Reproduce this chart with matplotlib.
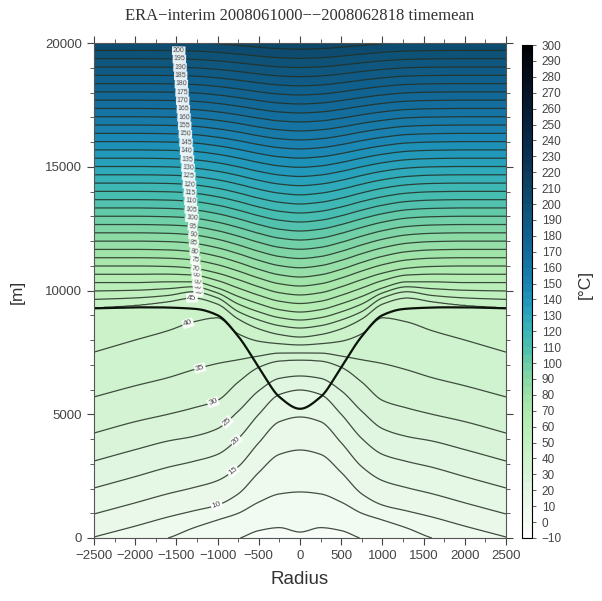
import numpy as np
import matplotlib
matplotlib.use("Agg")
import matplotlib.pyplot as plt
from matplotlib.colors import LinearSegmentedColormap
from matplotlib.ticker import MultipleLocator

# ---------------- data ----------------
title = "ERA\u2212interim 2008061000\u2212\u22122008062818 timemean"

# radial columns (symmetric about r = 0)
radii = [0, 250, 500, 750, 1000, 1300, 1600, 2000, 2500]

# potential-temperature levels [degC] and their heights [m] at each radius
theta_levels = [-5, 0, 5, 10, 15, 20, 25, 30, 35, 40, 45, 50, 60, 70, 80, 100, 120, 150, 180, 210]
z_m005 = [-1300, -1300, -1300, -1500, -1700, -1900, -2100, -2300, -2500]
z_000 = [240, 420, 300, -30, -250, -500, -800, -1100, -1500]
z_005 = [1860, 1780, 1450, 1000, 730, 400, 0, -350, -700]
z_010 = [3555, 3380, 2650, 1780, 1330, 1090, 850, 480, 40]
z_015 = [4890, 4700, 3850, 2880, 2320, 2030, 1790, 1420, 970]
z_020 = [5980, 5800, 5000, 4020, 3380, 3090, 2860, 2480, 2020]
z_025 = [6545, 6450, 5950, 5120, 4420, 4100, 3920, 3570, 3110]
z_030 = [7190, 7150, 6900, 6300, 5560, 5250, 5000, 4700, 4240]
z_035 = [7475, 7470, 7350, 7200, 7050, 6790, 6480, 6150, 5700]
z_040 = [7800, 7850, 7950, 8250, 8900, 8730, 8380, 8000, 7510]
z_045 = [8120, 8220, 8450, 8850, 9450, 9700, 9550, 9400, 9300]
z_050 = [8485, 8580, 8810, 9150, 9700, 9950, 9800, 9700, 9640]
z_060 = [9130, 9225, 9465, 9760, 10100, 10350, 10350, 10320, 10320]
z_070 = [9820, 9910, 10150, 10440, 10700, 10900, 10970, 10990, 10990]
z_080 = [10545, 10635, 10855, 11135, 11380, 11570, 11640, 11660, 11660]
z_100 = [12040, 12115, 12310, 12550, 12760, 12925, 12980, 13000, 13000]
z_120 = [13495, 13565, 13730, 13945, 14130, 14270, 14325, 14340, 14340]
z_150 = [15720, 15770, 15895, 16055, 16190, 16300, 16335, 16350, 16350]
z_180 = [17900, 17935, 18030, 18145, 18245, 18325, 18350, 18360, 18360]
z_210 = [20120, 20140, 20190, 20255, 20310, 20350, 20365, 20370, 20370]

# tropopause (thick line), symmetric about r = 0
trop_r = [0, 250, 500, 750, 1000, 1250, 1500, 1750, 2000, 2250, 2500]
trop_z = [5220, 5700, 6900, 8150, 9000, 9250, 9300, 9320, 9320, 9300, 9280]

# contour-label levels and where (radius) they sit on the left side
low_label_levels = [10, 15, 20, 25, 30, 35, 40, 45]
low_label_radii = [-1010, -815, -777, -888, -1056, -1214, -1360, -1311]
up_label_levels = list(range(50, 201, 5))

xticks = [-2500, -2000, -1500, -1000, -500, 0, 500, 1000, 1500, 2000, 2500]
yticks = [0, 5000, 10000, 15000, 20000]
cbar_ticks = list(range(-10, 301, 10))

# ---------------- helpers ----------------
def pchip(x, y, xn):
    x = np.asarray(x, float); y = np.asarray(y, float); xn = np.asarray(xn, float)
    h = np.diff(x); d = np.diff(y) / h
    n = len(x)
    m = np.zeros(n)
    for k in range(1, n - 1):
        if d[k - 1] * d[k] > 0:
            w1 = 2 * h[k] + h[k - 1]; w2 = h[k] + 2 * h[k - 1]
            m[k] = (w1 + w2) / (w1 / d[k - 1] + w2 / d[k])
    m[0] = d[0]; m[-1] = d[-1]
    idx = np.clip(np.searchsorted(x, xn) - 1, 0, n - 2)
    t = (xn - x[idx]) / h[idx]
    h00 = 2 * t**3 - 3 * t**2 + 1
    h10 = t**3 - 2 * t**2 + t
    h01 = -2 * t**3 + 3 * t**2
    h11 = t**3 - t**2
    return h00 * y[idx] + h10 * h[idx] * m[idx] + h01 * y[idx + 1] + h11 * h[idx] * m[idx + 1]

def mirror(rr, vals):
    rr = np.asarray(rr, float); vals = np.asarray(vals, float)
    return np.concatenate([-rr[::-1], rr[1:]]), np.concatenate([vals[::-1], vals[1:]])

# ---------------- build field ----------------
rows = [z_m005, z_000, z_005, z_010, z_015, z_020, z_025, z_030, z_035, z_040,
        z_045, z_050, z_060, z_070, z_080, z_100, z_120, z_150, z_180, z_210]
r_f = np.linspace(-2500, 2500, 401)
z_f = np.linspace(0, 20000, 801)
H = np.empty((len(rows), r_f.size))
for i, row in enumerate(rows):
    rm, vm = mirror(radii, row)
    H[i] = pchip(rm, vm, r_f)
for i in range(1, H.shape[0]):
    H[i] = np.maximum(H[i], H[i - 1] + 1.0)
TH = np.empty((z_f.size, r_f.size))
lv = np.asarray(theta_levels, float)
for j in range(r_f.size):
    TH[:, j] = np.interp(z_f, H[:, j], lv)
R, Z = np.meshgrid(r_f, z_f)

# ---------------- colours ----------------
anchors = [(-10, "#ffffff"), (0, "#f4fbf4"), (10, "#ecf9ec"), (20, "#e2f6e2"),
           (30, "#d6f3d6"), (45, "#c8f2c6"), (60, "#b8eeb6"), (75, "#a6e6aa"),
           (90, "#86d8a6"), (100, "#68cca8"), (110, "#4cc0b0"), (125, "#32aeba"),
           (140, "#1e94ba"), (150, "#1a84b2"), (170, "#126a9a"), (190, "#0f5a84"),
           (205, "#0d4a6c"), (230, "#0a3052"), (260, "#061a34"), (290, "#020810"),
           (300, "#000000")]
cmap = LinearSegmentedColormap.from_list(
    "era", [((v + 10) / 310.0, c) for v, c in anchors])

# ---------------- figure ----------------
fig = plt.figure(figsize=(6.02, 6.01), dpi=100)
ax = fig.add_axes([94 / 602, 63 / 601, 412 / 602, 495 / 601])
cax = fig.add_axes([522 / 602, 63 / 601, 10 / 602, 493 / 601])

fill_levels = np.arange(-10, 305, 5)
cf = ax.contourf(R, Z, TH, levels=fill_levels, cmap=cmap, vmin=-10, vmax=300)
line_kw = dict(colors="#243024", linewidths=0.9, alpha=0.85)
ax.contour(R, Z, TH, levels=[-5, 0, 5, 205], **line_kw)
lab_levels = low_label_levels + up_label_levels
cs = ax.contour(R, Z, TH, levels=lab_levels, **line_kw)

# tropopause
tr_m, tz_m = mirror(trop_r, trop_z)
ax.plot(r_f, pchip(tr_m, tz_m, r_f), color="#0a120a", lw=1.6)

def z_on_level(lev, rpos):
    j = int(np.argmin(np.abs(r_f - rpos)))
    return float(np.interp(lev, TH[:, j], z_f))

positions = [(rp, z_on_level(l_, rp)) for l_, rp in zip(low_label_levels, low_label_radii)]
for l_ in up_label_levels:
    rp = -1230 - 250 * (l_ - 50) / 155.0
    positions.append((rp, z_on_level(l_, rp)))
texts = ax.clabel(cs, manual=positions, inline=True, inline_spacing=1,
                  fmt="%d", fontsize=5.0, colors="#303030")
for t in texts:
    t.set_bbox(dict(boxstyle="square,pad=0.12", fc="white", ec="none", alpha=0.9))
    t.set_family("Liberation Sans")
    try:
        if int(t.get_text()) <= 45:
            t.set_fontsize(6.0)
    except ValueError:
        pass

ax.set_xlim(-2500, 2500)
ax.set_ylim(0, 20000)
ax.set_xticks(xticks)
ax.set_yticks(yticks)
ax.xaxis.set_minor_locator(MultipleLocator(250))
ax.yaxis.set_minor_locator(MultipleLocator(1000))
ax.tick_params(which="both", direction="out", top=True, right=True,
               colors="#444444", labelcolor="#444444")
ax.tick_params(which="major", length=5, width=0.8, labelsize=9.5)
ax.tick_params(which="minor", length=3, width=0.6)
for lab in ax.get_xticklabels() + ax.get_yticklabels():
    lab.set_family("Liberation Sans")
for sp in ax.spines.values():
    sp.set_color("#555555"); sp.set_linewidth(0.8)

cb = fig.colorbar(cf, cax=cax, ticks=cbar_ticks)
cb.outline.set_linewidth(0.8)
cax.tick_params(direction="out", length=3, width=0.6, labelsize=8.5, pad=4,
                colors="#444444", labelcolor="#444444")
for lab in cax.get_yticklabels():
    lab.set_family("Liberation Sans")

fig.text(300 / 602, 1 - 16 / 601, title, ha="center", va="center",
         fontsize=12, family="Liberation Serif", color="#333333")
fig.text(300 / 602, 1 - 580 / 601, "Radius", ha="center", va="center",
         fontsize=13.5, family="Liberation Sans", color="#333333")
fig.text(17 / 602, 1 - 292 / 601, "[m]", ha="center", va="center", rotation=90,
         fontsize=12.5, family="Liberation Sans", color="#333333")
fig.text(585 / 602, 1 - 284 / 601, "[\u00b0C]", ha="center", va="center", rotation=90,
         fontsize=12.5, family="Liberation Sans", color="#333333")

fig.savefig("out.png", dpi=100)
